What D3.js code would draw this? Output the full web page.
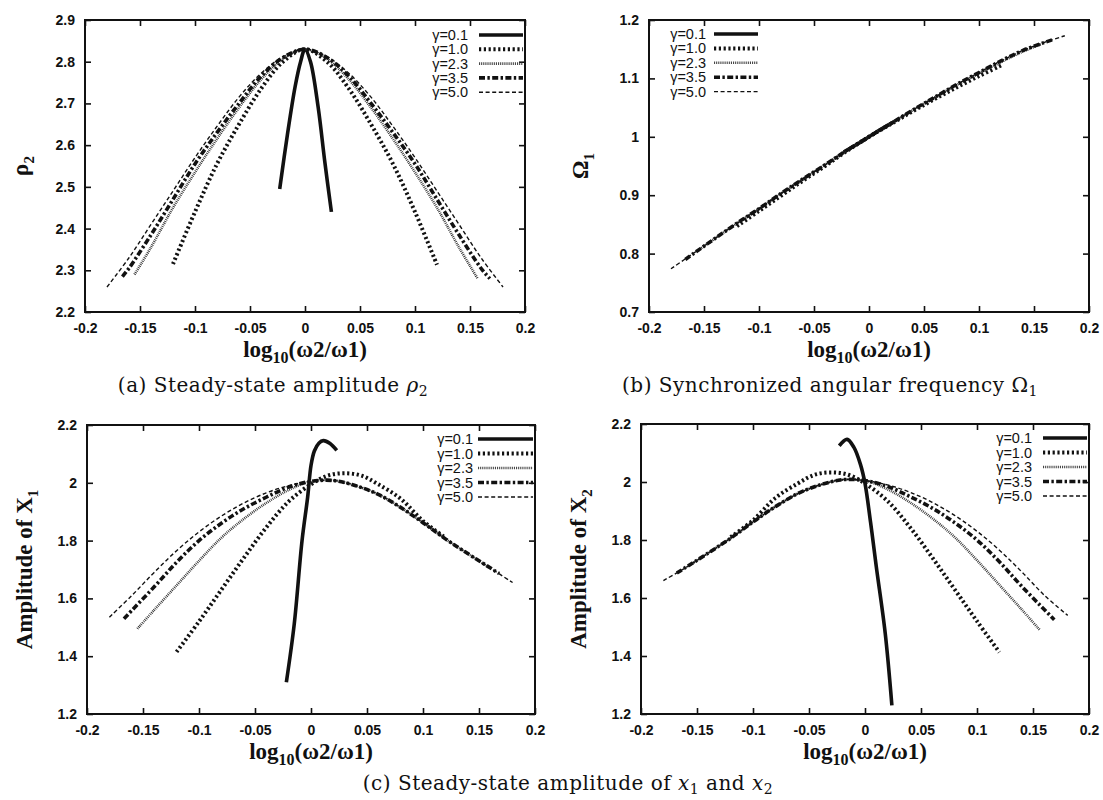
<!doctype html>
<html>
<head>
<meta charset="UTF-8">
<title>steady-state</title>
<script src="https://cdn.jsdelivr.net/npm/d3@7"></script>
<style>
  body { margin: 0; background: #fff; }
  svg { display: block; }
  .tick text { font-family: "Liberation Sans", Arial, sans-serif; font-weight: bold; font-size: 14px; fill: #111; }
  .tick line { stroke: #111; stroke-width: 1.6px; }
  .legend text { font-family: "Liberation Sans", Arial, sans-serif; font-size: 14.5px; fill: #111; }
  .axis-title { font-family: "Liberation Serif", "Times New Roman", serif; font-weight: bold; font-size: 23px; fill: #111; }
  .caption { font-family: "DejaVu Serif", serif; font-size: 20px; letter-spacing: 0.5px; fill: #111; }
</style>
</head>
<body>
<svg id="chart" width="1103" height="800"></svg>
<script>
// ---- data ----
const gammaLabels = ["γ=0.1", "γ=1.0", "γ=2.3", "γ=3.5", "γ=5.0"];

const xTicks = [-0.2, -0.15, -0.1, -0.05, 0, 0.05, 0.1, 0.15, 0.2];
const xTickLabels = ["-0.2", "-0.15", "-0.1", "-0.05", "0", "0.05", "0.1", "0.15", "0.2"];

const yTicksRho = [2.2, 2.3, 2.4, 2.5, 2.6, 2.7, 2.8, 2.9];
const yTickLabelsRho = ["2.2", "2.3", "2.4", "2.5", "2.6", "2.7", "2.8", "2.9"];
const yTicksOmega = [0.7, 0.8, 0.9, 1.0, 1.1, 1.2];
const yTickLabelsOmega = ["0.7", "0.8", "0.9", "1", "1.1", "1.2"];
const yTicksAmp = [1.2, 1.4, 1.6, 1.8, 2.0, 2.2];
const yTickLabelsAmp = ["1.2", "1.4", "1.6", "1.8", "2", "2.2"];

// (a) rho2
const rhoG01 = [[-0.023,2.495],[-0.016,2.625],[-0.009,2.74],[-0.004,2.8],[0,2.83],[0.005,2.8],[0.012,2.69],[0.018,2.56],[0.024,2.44]];
const rhoG10 = [[-0.12,2.315],[-0.1,2.44],[-0.08,2.555],[-0.06,2.65],[-0.04,2.735],[-0.02,2.8],[0,2.83],[0.02,2.8],[0.04,2.735],[0.06,2.65],[0.08,2.555],[0.1,2.44],[0.12,2.313]];
const rhoG23 = [[-0.155,2.29],[-0.14,2.355],[-0.12,2.45],[-0.1,2.535],[-0.08,2.615],[-0.06,2.69],[-0.04,2.757],[-0.02,2.807],[0,2.83],[0.02,2.807],[0.04,2.757],[0.06,2.69],[0.08,2.615],[0.1,2.535],[0.12,2.45],[0.14,2.355],[0.157,2.28]];
const rhoG35 = [[-0.166,2.285],[-0.16,2.305],[-0.14,2.385],[-0.12,2.47],[-0.1,2.555],[-0.08,2.63],[-0.06,2.7],[-0.04,2.765],[-0.02,2.81],[0,2.83],[0.02,2.81],[0.04,2.765],[0.06,2.7],[0.08,2.63],[0.1,2.555],[0.12,2.47],[0.14,2.385],[0.16,2.305],[0.168,2.28]];
const rhoG50 = [[-0.18,2.26],[-0.16,2.33],[-0.14,2.41],[-0.12,2.49],[-0.1,2.57],[-0.08,2.645],[-0.06,2.715],[-0.04,2.772],[-0.02,2.812],[0,2.83],[0.02,2.812],[0.04,2.772],[0.06,2.715],[0.08,2.645],[0.1,2.57],[0.12,2.49],[0.14,2.41],[0.16,2.33],[0.18,2.26]];

// (b) Omega1
const omegaG01 = [[-0.023,0.974],[-0.01,0.988],[0,1.0],[0.01,1.012],[0.023,1.026]];
const omegaG10 = [[-0.12,0.847],[-0.1,0.873],[-0.08,0.899],[-0.06,0.925],[-0.04,0.95],[-0.02,0.976],[0,1.0],[0.02,1.022],[0.04,1.044],[0.06,1.065],[0.08,1.085],[0.1,1.104],[0.12,1.122]];
const omegaG23 = [[-0.155,0.806],[-0.14,0.826],[-0.12,0.852],[-0.1,0.877],[-0.08,0.903],[-0.06,0.928],[-0.04,0.952],[-0.02,0.977],[0,1.0],[0.02,1.023],[0.04,1.046],[0.06,1.068],[0.08,1.089],[0.1,1.109],[0.12,1.128],[0.14,1.146],[0.157,1.159]];
const omegaG35 = [[-0.167,0.79],[-0.14,0.826],[-0.12,0.852],[-0.1,0.877],[-0.08,0.903],[-0.06,0.928],[-0.04,0.952],[-0.02,0.977],[0,1.0],[0.02,1.023],[0.04,1.046],[0.06,1.068],[0.08,1.09],[0.1,1.11],[0.12,1.13],[0.14,1.148],[0.168,1.167]];
const omegaG50 = [[-0.18,0.774],[-0.16,0.8],[-0.14,0.826],[-0.12,0.852],[-0.1,0.877],[-0.08,0.903],[-0.06,0.928],[-0.04,0.952],[-0.02,0.977],[0,1.0],[0.02,1.023],[0.04,1.046],[0.06,1.068],[0.08,1.09],[0.1,1.11],[0.12,1.13],[0.14,1.148],[0.16,1.162],[0.178,1.173]];

// (c) amplitude of x1
const x1G01 = [[-0.022,1.31],[-0.015,1.51],[-0.008,1.8],[-0.003,1.95],[0,2.06],[0.003,2.11],[0.007,2.137],[0.011,2.146],[0.017,2.136],[0.023,2.112]];
const x1G10 = [[-0.12,1.415],[-0.1,1.52],[-0.08,1.63],[-0.06,1.74],[-0.04,1.845],[-0.02,1.935],[0,1.995],[0.015,2.025],[0.03,2.033],[0.045,2.025],[0.06,1.995],[0.08,1.945],[0.1,1.868],[0.12,1.81]];
const x1G23 = [[-0.155,1.495],[-0.14,1.56],[-0.12,1.645],[-0.1,1.73],[-0.08,1.81],[-0.06,1.875],[-0.04,1.93],[-0.02,1.975],[0,2.005],[0.02,2.008],[0.04,1.99],[0.06,1.96],[0.08,1.915],[0.1,1.862],[0.12,1.806],[0.14,1.755],[0.157,1.712]];
const x1G35 = [[-0.167,1.53],[-0.14,1.64],[-0.12,1.725],[-0.1,1.8],[-0.08,1.86],[-0.06,1.91],[-0.04,1.95],[-0.02,1.985],[0,2.005],[0.02,2.008],[0.04,1.99],[0.06,1.96],[0.08,1.915],[0.1,1.862],[0.12,1.806],[0.14,1.755],[0.168,1.686]];
const x1G50 = [[-0.18,1.535],[-0.16,1.61],[-0.14,1.69],[-0.12,1.765],[-0.1,1.83],[-0.08,1.885],[-0.06,1.93],[-0.04,1.965],[-0.02,1.99],[0,2.005],[0.02,2.008],[0.04,1.99],[0.06,1.96],[0.08,1.915],[0.1,1.862],[0.12,1.806],[0.14,1.755],[0.16,1.705],[0.18,1.655]];

// (d) amplitude of x2
const x2G01 = [[-0.023,2.125],[-0.016,2.147],[-0.01,2.12],[-0.004,2.06],[0,1.995],[0.005,1.86],[0.01,1.71],[0.018,1.48],[0.024,1.23]];
const x2G10 = [[-0.12,1.81],[-0.1,1.868],[-0.08,1.945],[-0.06,1.995],[-0.045,2.025],[-0.03,2.033],[-0.015,2.025],[0,1.995],[0.02,1.935],[0.04,1.845],[0.06,1.74],[0.08,1.63],[0.1,1.52],[0.12,1.413]];
const x2G23 = [[-0.157,1.712],[-0.14,1.755],[-0.12,1.806],[-0.1,1.862],[-0.08,1.915],[-0.06,1.96],[-0.04,1.99],[-0.02,2.008],[0,2.005],[0.02,1.975],[0.04,1.93],[0.06,1.875],[0.08,1.81],[0.1,1.73],[0.12,1.645],[0.14,1.56],[0.156,1.49]];
const x2G35 = [[-0.168,1.686],[-0.14,1.755],[-0.12,1.806],[-0.1,1.862],[-0.08,1.915],[-0.06,1.96],[-0.04,1.99],[-0.02,2.008],[0,2.005],[0.02,1.985],[0.04,1.95],[0.06,1.91],[0.08,1.86],[0.1,1.8],[0.12,1.725],[0.14,1.64],[0.169,1.525]];
const x2G50 = [[-0.18,1.66],[-0.16,1.705],[-0.14,1.755],[-0.12,1.806],[-0.1,1.862],[-0.08,1.915],[-0.06,1.96],[-0.04,1.99],[-0.02,2.008],[0,2.005],[0.02,1.99],[0.04,1.965],[0.06,1.93],[0.08,1.885],[0.1,1.83],[0.12,1.765],[0.14,1.69],[0.16,1.61],[0.181,1.54]];

// ---- styling for the five gamma curves ----
const lineStyles = [
  { w: 3.6, dash: null },
  { w: 4, dash: "2.2,2.6" },
  { w: 2.6, dash: "0.9,1", color: "#333" },
  { w: 3.6, dash: "6,2.4,2.4,2.4" },
  { w: 1.4, dash: "4,2.6" }
];

const panels = [
  { left: 85, right: 525, top: 20, bottom: 312, yDomain: [2.2, 2.9], yTicks: yTicksRho, yLabels: yTickLabelsRho,
    series: [rhoG01, rhoG10, rhoG23, rhoG35, rhoG50],
    legend: { textRight: 468, x0: 479, x1: 523, y0: 35, step: 14.3 },
    yTitle: [{ t: "ρ" }, { t: "2", sub: true }], yTitleX: 28 },
  { left: 649, right: 1089, top: 20, bottom: 312, yDomain: [0.7, 1.2], yTicks: yTicksOmega, yLabels: yTickLabelsOmega,
    series: [omegaG01, omegaG10, omegaG23, omegaG35, omegaG50],
    legend: { textRight: 706, x0: 714, x1: 758, y0: 34, step: 14.4 },
    yTitle: [{ t: "Ω" }, { t: "1", sub: true }], yTitleX: 588 },
  { left: 87, right: 535, top: 425, bottom: 714, yDomain: [1.2, 2.2], yTicks: yTicksAmp, yLabels: yTickLabelsAmp,
    series: [x1G01, x1G10, x1G23, x1G35, x1G50],
    legend: { textRight: 473, x0: 478, x1: 533, y0: 439, step: 14.5 },
    yTitle: [{ t: "Amplitude of X" }, { t: "1", sub: true }], yTitleX: 32 },
  { left: 641, right: 1089, top: 424, bottom: 714, yDomain: [1.2, 2.2], yTicks: yTicksAmp, yLabels: yTickLabelsAmp,
    series: [x2G01, x2G10, x2G23, x2G35, x2G50],
    legend: { textRight: 1032, x0: 1043, x1: 1087, y0: 438, step: 14.5 },
    yTitle: [{ t: "Amplitude of X" }, { t: "2", sub: true }], yTitleX: 586 }
];

const svg = d3.select("#chart");
svg.append("rect").attr("width", 1103).attr("height", 800).attr("fill", "#fff");

// text with subscripts
function addRich(sel, parts, subSize, d) {
  let shifted = false;
  parts.forEach(p => {
    const ts = sel.append("tspan").text(p.t);
    if (p.it) ts.attr("font-style", "italic");
    if (p.sub) {
      ts.attr("font-size", subSize).attr("dy", shifted ? 0 : d);
      shifted = true;
    } else {
      if (shifted) ts.attr("dy", -d);
      shifted = false;
    }
  });
}

function styleLine(sel, s) {
  sel.attr("fill", "none")
    .attr("stroke", s.color || "#111")
    .attr("stroke-width", s.w)
    .attr("stroke-dasharray", s.dash);
}

panels.forEach(p => {
  const x = d3.scaleLinear().domain([-0.2, 0.2]).range([p.left, p.right]);
  const y = d3.scaleLinear().domain(p.yDomain).range([p.bottom, p.top]);
  const g = svg.append("g");

  const fmtX = d => xTickLabels[xTicks.indexOf(d)];
  const fmtY = d => p.yLabels[p.yTicks.indexOf(d)];

  g.append("g").attr("transform", `translate(0,${p.bottom})`)
    .call(d3.axisBottom(x).tickValues(xTicks).tickFormat(fmtX).tickSize(-6).tickSizeOuter(0).tickPadding(11))
    .call(a => a.select(".domain").remove());
  g.append("g").attr("transform", `translate(0,${p.top})`)
    .call(d3.axisTop(x).tickValues(xTicks).tickFormat("").tickSize(-6).tickSizeOuter(0))
    .call(a => a.select(".domain").remove());
  g.append("g").attr("transform", `translate(${p.left},0)`)
    .call(d3.axisLeft(y).tickValues(p.yTicks).tickFormat(fmtY).tickSize(-6).tickSizeOuter(0).tickPadding(10))
    .call(a => a.select(".domain").remove());
  g.append("g").attr("transform", `translate(${p.right},0)`)
    .call(d3.axisRight(y).tickValues(p.yTicks).tickFormat("").tickSize(-6).tickSizeOuter(0))
    .call(a => a.select(".domain").remove());

  // frame
  g.append("rect")
    .attr("x", p.left).attr("y", p.top)
    .attr("width", p.right - p.left).attr("height", p.bottom - p.top)
    .attr("fill", "none").attr("stroke", "#111").attr("stroke-width", 2);

  const line = d3.line().x(d => x(d[0])).y(d => y(d[1])).curve(d3.curveCatmullRom.alpha(0.5));
  p.series.forEach((s, i) => {
    g.append("path").datum(s).attr("d", line).call(styleLine, lineStyles[i]);
  });

  // legend
  const lg = g.append("g").attr("class", "legend");
  gammaLabels.forEach((lab, i) => {
    const yy = p.legend.y0 + i * p.legend.step;
    lg.append("text").attr("x", p.legend.textRight).attr("y", yy)
      .attr("dy", "0.35em").attr("text-anchor", "end").text(lab);
    lg.append("line").attr("x1", p.legend.x0).attr("x2", p.legend.x1)
      .attr("y1", yy).attr("y2", yy).call(styleLine, lineStyles[i]);
  });

  // axis titles
  const xt = g.append("text").attr("class", "axis-title")
    .attr("x", (p.left + p.right) / 2).attr("y", p.bottom + 45).attr("text-anchor", "middle");
  addRich(xt, [{ t: "log" }, { t: "10", sub: true }, { t: "(ω2/ω1)" }], 16, 6);

  const yt = g.append("text").attr("class", "axis-title")
    .attr("transform", `translate(${p.yTitleX},${(p.top + p.bottom) / 2}) rotate(-90)`)
    .attr("text-anchor", "middle");
  addRich(yt, p.yTitle, 15, 6);
});

// captions
const captions = [
  { x: 273, y: 392, parts: [{ t: "(a) Steady-state amplitude " }, { t: "ρ", it: true }, { t: "2", sub: true }] },
  { x: 830, y: 392, parts: [{ t: "(b) Synchronized angular frequency Ω" }, { t: "1", sub: true }] },
  { x: 568, y: 790, parts: [{ t: "(c) Steady-state amplitude of " }, { t: "x", it: true }, { t: "1", sub: true },
                            { t: " and " }, { t: "x", it: true }, { t: "2", sub: true }] }
];
captions.forEach(c => {
  const t = svg.append("text").attr("class", "caption")
    .attr("x", c.x).attr("y", c.y).attr("text-anchor", "middle");
  addRich(t, c.parts, 14, 4);
});
</script>
</body>
</html>
